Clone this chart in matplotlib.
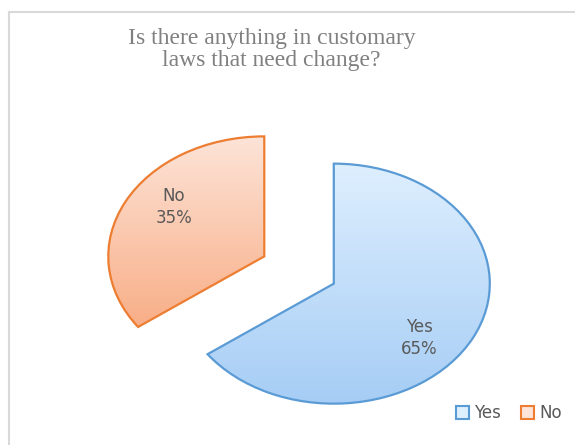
import numpy as np
import matplotlib.pyplot as plt
from matplotlib.patches import Patch
from matplotlib.colors import LinearSegmentedColormap


title_lines = ["Is there anything in customary", "laws that need change?"]
labels = ["Yes", "No"]
shares = [65, 35]
edge_colors = ["#5b9bd5", "#ed7d31"]
# top / bottom colours of the gradient fill
fill_top = ["#deeffe", "#fde4d8"]
fill_bottom = ["#a6cdf5", "#f8ae87"]
# where each label sits, relative to its slice's centre (radius units)
label_offsets = [(0.55, -0.45), (-0.58, 0.41)]


fig = plt.figure(figsize=(5.75, 4.45), dpi=100)
ax = fig.add_axes([0, 0, 1, 1])

wedges, texts, autotexts = ax.pie(
    shares,
    explode=[0.25, 0.25],
    startangle=90,
    counterclock=False,
    colors=["none", "none"],
    autopct="%d%%",
    wedgeprops=dict(linewidth=1.6),
    textprops=dict(color="#595959", fontsize=12),
)

# the picture is stretched sideways, so the pie is an ellipse
ax.set_aspect("auto")
ax.axis("off")

for i, w in enumerate(wedges):
    w.set_edgecolor(edge_colors[i])
    w.set_zorder(3)
    cmap = LinearSegmentedColormap.from_list("g", [fill_bottom[i], fill_top[i]])
    x0, y0, x1, y1 = w.get_path().get_extents(w.get_patch_transform()).extents
    grad = np.linspace(0, 1, 256).reshape(-1, 1)
    im = ax.imshow(grad, cmap=cmap, origin="lower", extent=[x0, x1, y0, y1],
                   aspect="auto", zorder=2)
    im.set_clip_path(w)
    cx, cy = w.center
    autotexts[i].set_position((cx + label_offsets[i][0], cy + label_offsets[i][1]))
    autotexts[i].set_text(labels[i] + "\n" + autotexts[i].get_text())
    autotexts[i].set_zorder(4)
    autotexts[i].set_linespacing(1.3)

ax.set_xlim(-1.917, 1.769)
ax.set_ylim(-1.458, 2.25)

# two title lines, baselines at about 44 px and 66 px from the top
for line, base in zip(title_lines, [44, 66]):
    fig.text(0.472, 1 - base / 445, line, ha="center", va="baseline", fontsize=17,
             family="Liberation Serif", color="#808080")

handles = [Patch(facecolor=fill_top[i], edgecolor=edge_colors[i], linewidth=1.5)
           for i in range(2)]
fig.legend(handles, labels, loc="center", bbox_to_anchor=(0.885, 0.072), ncol=2,
           frameon=False, fontsize=12, labelcolor="#595959", handlelength=0.8,
           handleheight=0.8, handletextpad=0.3, columnspacing=1.2)

# chart border (only left and top edges are in the crop)
fig.add_artist(plt.Line2D([9 / 575, 9 / 575], [0, 1 - 12 / 445], color="#d9d9d9",
                          linewidth=1.5, transform=fig.transFigure))
fig.add_artist(plt.Line2D([9 / 575, 1], [1 - 12 / 445, 1 - 12 / 445], color="#d9d9d9",
                          linewidth=1.5, transform=fig.transFigure))

fig.savefig("out.png", dpi=100)
